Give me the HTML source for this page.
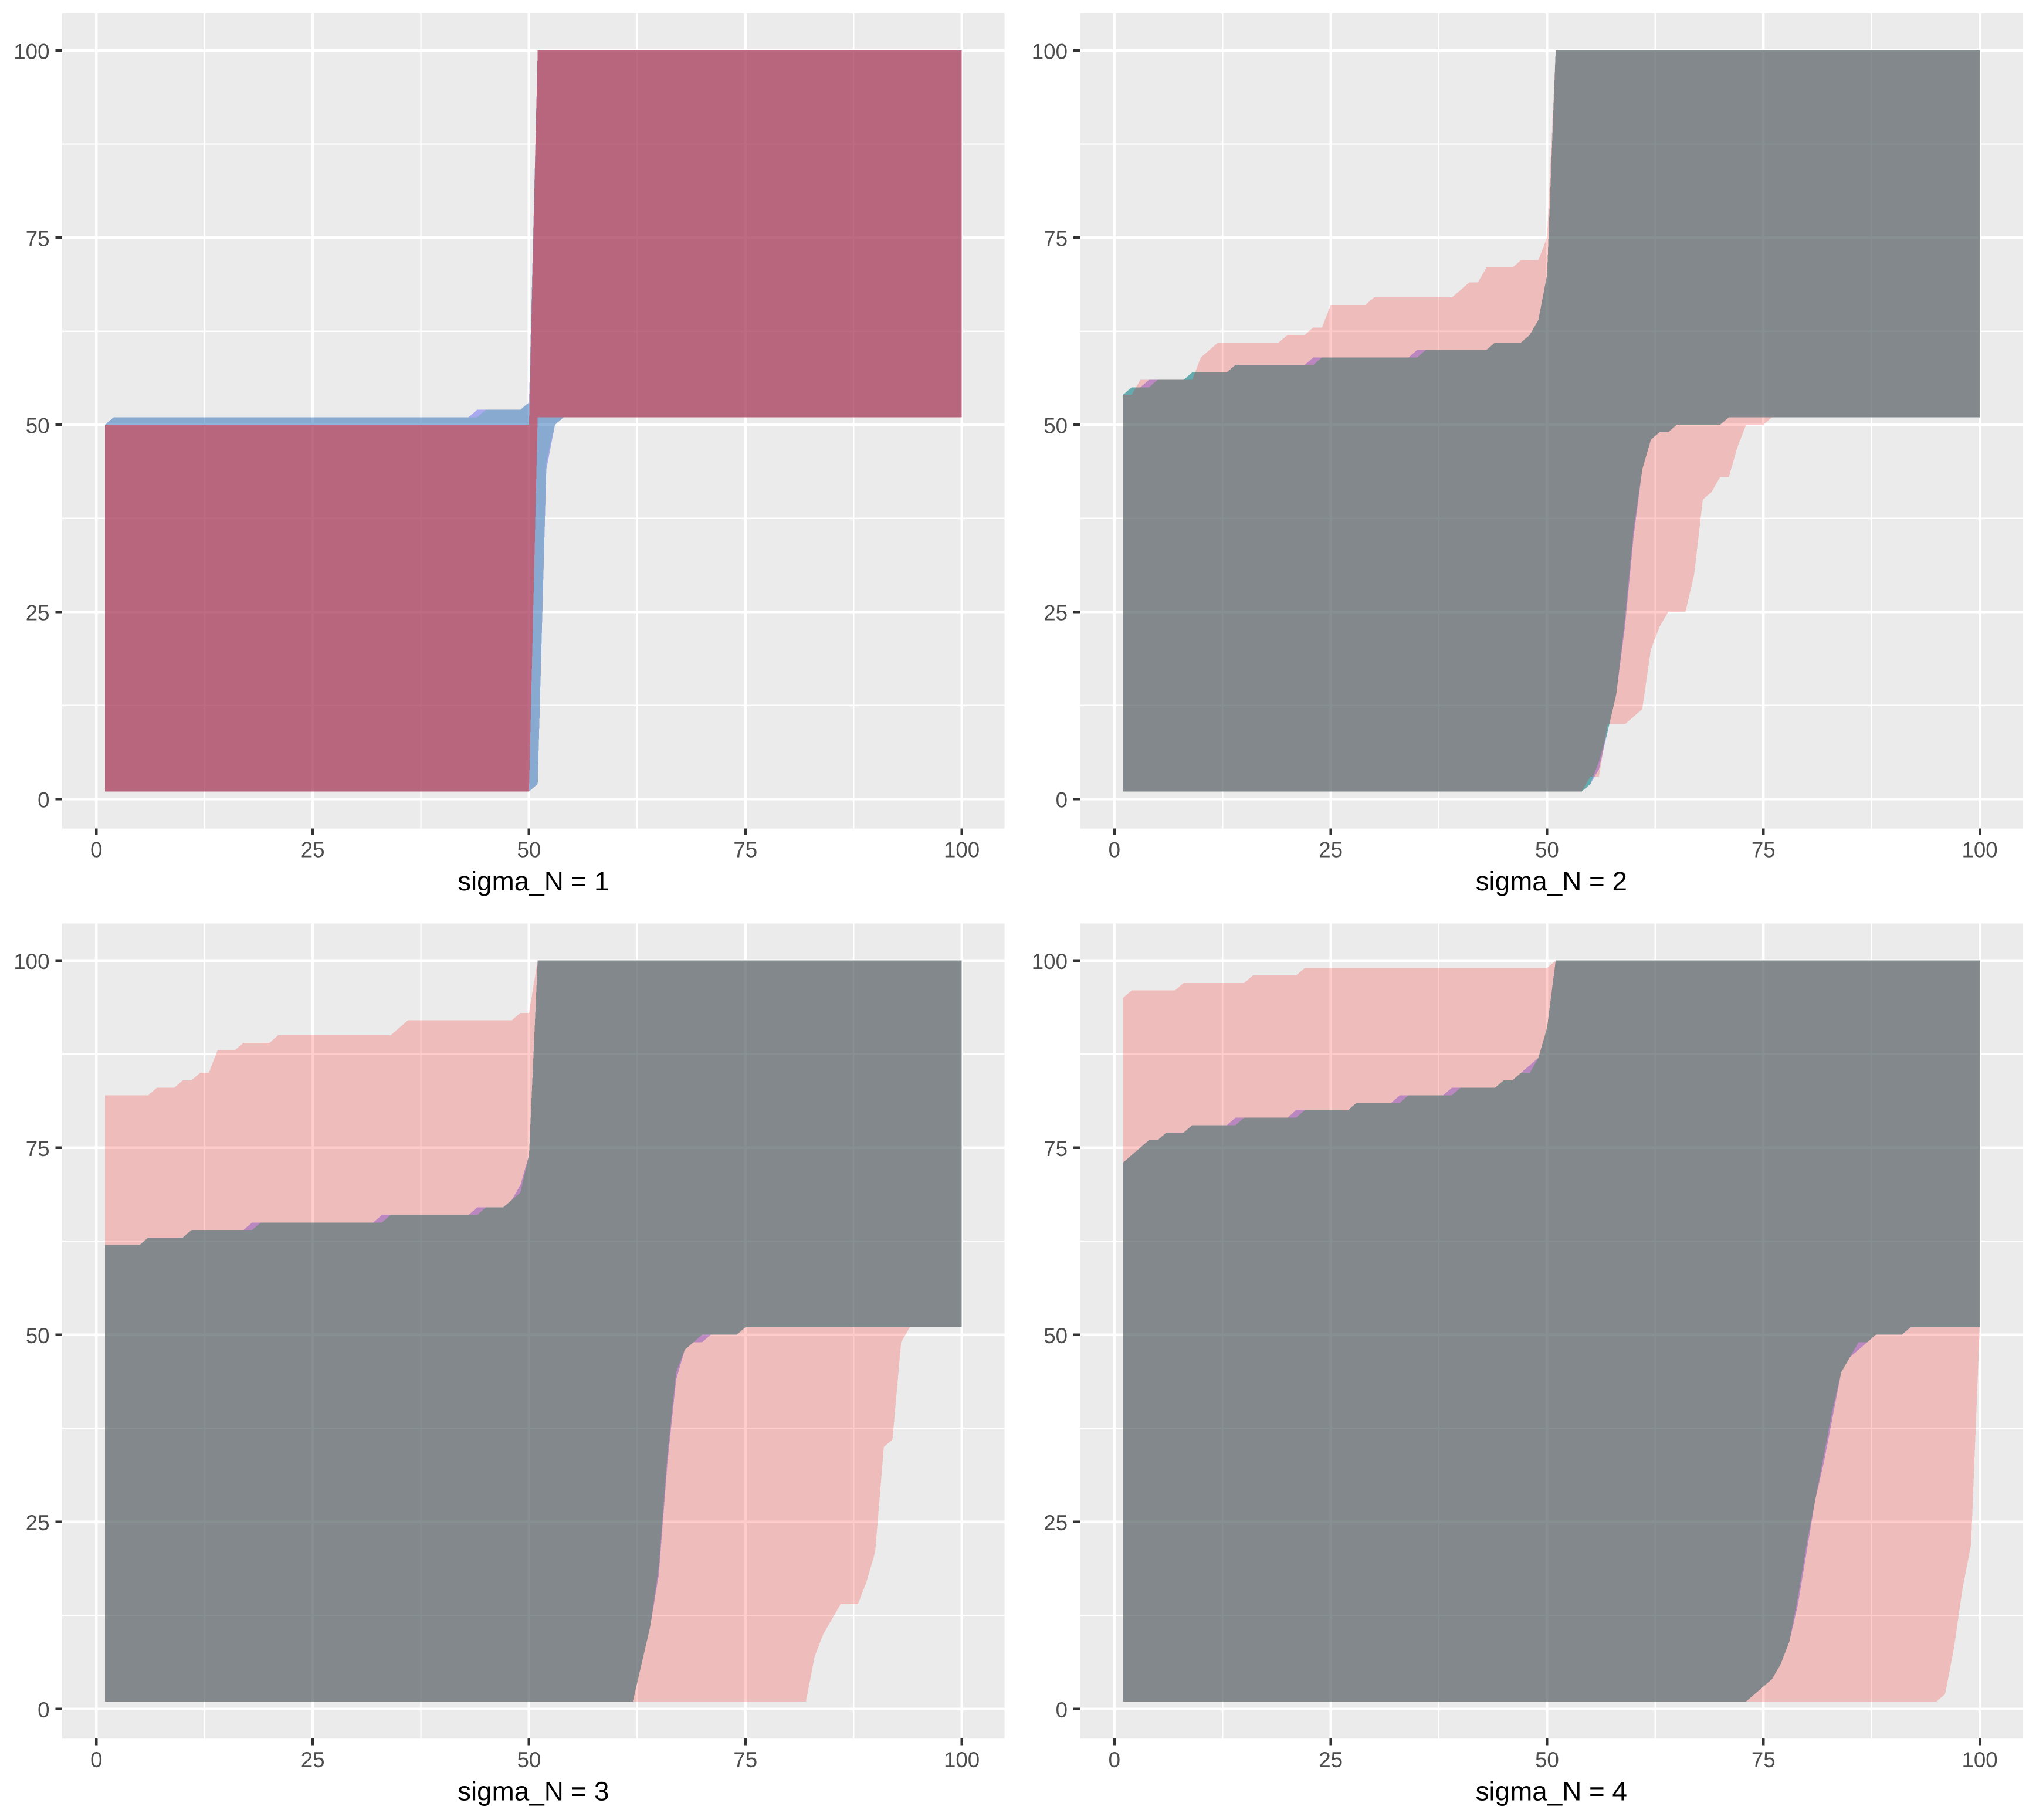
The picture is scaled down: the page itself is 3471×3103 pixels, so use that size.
<!DOCTYPE html>
<html lang="en">
<head>
<meta charset="utf-8">
<title>Ribbon comparison by sigma_N</title>
<style>
html,body{margin:0;padding:0;background:#fff;}
svg{display:block;font-family:"Liberation Sans",Arial,sans-serif;}
</style>
</head>
<body>
<svg id="chart" xmlns="http://www.w3.org/2000/svg" width="3471" height="3103" viewBox="0 0 3471 3103"></svg>
<script>
/* ---------- panel titles and axis ticks ---------- */
const panelTitles = ["sigma_N = 1", "sigma_N = 2", "sigma_N = 3", "sigma_N = 4"];
const majorTicks = [0, 25, 50, 75, 100];
const minorTicks = [12.5, 37.5, 62.5, 87.5];
const tickLabels = ["0", "25", "50", "75", "100"];
const xCategories = [
  1,2,3,4,5,6,7,8,9,10, 11,12,13,14,15,16,17,18,19,20,
  21,22,23,24,25,26,27,28,29,30, 31,32,33,34,35,36,37,38,39,40,
  41,42,43,44,45,46,47,48,49,50, 51,52,53,54,55,56,57,58,59,60,
  61,62,63,64,65,66,67,68,69,70, 71,72,73,74,75,76,77,78,79,80,
  81,82,83,84,85,86,87,88,89,90, 91,92,93,94,95,96,97,98,99,100
];

/* ---------- panel 1 (sigma_N = 1) ---------- */
const p1RedUpper = [
  50,50,50,50,50,50,50,50,50,50, 50,50,50,50,50,50,50,50,50,50,
  50,50,50,50,50,50,50,50,50,50, 50,50,50,50,50,50,50,50,50,50,
  50,50,50,50,50,50,50,50,50,50, 100,100,100,100,100,100,100,100,100,100,
  100,100,100,100,100,100,100,100,100,100, 100,100,100,100,100,100,100,100,100,100,
  100,100,100,100,100,100,100,100,100,100, 100,100,100,100,100,100,100,100,100,100
];
const p1RedLower = [
  1,1,1,1,1,1,1,1,1,1, 1,1,1,1,1,1,1,1,1,1,
  1,1,1,1,1,1,1,1,1,1, 1,1,1,1,1,1,1,1,1,1,
  1,1,1,1,1,1,1,1,1,1, 51,51,51,51,51,51,51,51,51,51,
  51,51,51,51,51,51,51,51,51,51, 51,51,51,51,51,51,51,51,51,51,
  51,51,51,51,51,51,51,51,51,51, 51,51,51,51,51,51,51,51,51,51
];
const p1TealUpper = [
  50,51,51,51,51,51,51,51,51,51, 51,51,51,51,51,51,51,51,51,51,
  51,51,51,51,51,51,51,51,51,51, 51,51,51,51,51,51,51,51,51,51,
  51,51,51,51,52,52,52,52,52,53, 100,100,100,100,100,100,100,100,100,100,
  100,100,100,100,100,100,100,100,100,100, 100,100,100,100,100,100,100,100,100,100,
  100,100,100,100,100,100,100,100,100,100, 100,100,100,100,100,100,100,100,100,100
];
const p1TealLower = [
  1,1,1,1,1,1,1,1,1,1, 1,1,1,1,1,1,1,1,1,1,
  1,1,1,1,1,1,1,1,1,1, 1,1,1,1,1,1,1,1,1,1,
  1,1,1,1,1,1,1,1,1,1, 2,45,50,51,51,51,51,51,51,51,
  51,51,51,51,51,51,51,51,51,51, 51,51,51,51,51,51,51,51,51,51,
  51,51,51,51,51,51,51,51,51,51, 51,51,51,51,51,51,51,51,51,51
];
const p1BlueUpper = [
  50,51,51,51,51,51,51,51,51,51, 51,51,51,51,51,51,51,51,51,51,
  51,51,51,51,51,51,51,51,51,51, 51,51,51,51,51,51,51,51,51,51,
  51,51,51,52,52,52,52,52,52,53, 100,100,100,100,100,100,100,100,100,100,
  100,100,100,100,100,100,100,100,100,100, 100,100,100,100,100,100,100,100,100,100,
  100,100,100,100,100,100,100,100,100,100, 100,100,100,100,100,100,100,100,100,100
];
const p1BlueLower = [
  1,1,1,1,1,1,1,1,1,1, 1,1,1,1,1,1,1,1,1,1,
  1,1,1,1,1,1,1,1,1,1, 1,1,1,1,1,1,1,1,1,1,
  1,1,1,1,1,1,1,1,1,1, 2,44,50,51,51,51,51,51,51,51,
  51,51,51,51,51,51,51,51,51,51, 51,51,51,51,51,51,51,51,51,51,
  51,51,51,51,51,51,51,51,51,51, 51,51,51,51,51,51,51,51,51,51
];

/* ---------- panel 2 (sigma_N = 2) ---------- */
const p2RedUpper = [
  54,54,56,56,56,56,56,56,56,59, 60,61,61,61,61,61,61,61,61,62,
  62,62,63,63,66,66,66,66,66,67, 67,67,67,67,67,67,67,67,67,68,
  69,69,71,71,71,71,72,72,72,75, 100,100,100,100,100,100,100,100,100,100,
  100,100,100,100,100,100,100,100,100,100, 100,100,100,100,100,100,100,100,100,100,
  100,100,100,100,100,100,100,100,100,100, 100,100,100,100,100,100,100,100,100,100
];
const p2RedLower = [
  1,1,1,1,1,1,1,1,1,1, 1,1,1,1,1,1,1,1,1,1,
  1,1,1,1,1,1,1,1,1,1, 1,1,1,1,1,1,1,1,1,1,
  1,1,1,1,1,1,1,1,1,1, 1,1,1,1,3,3,10,10,10,11,
  12,20,23,25,25,25,30,40,41,43, 43,47,50,50,50,51,51,51,51,51,
  51,51,51,51,51,51,51,51,51,51, 51,51,51,51,51,51,51,51,51,51
];
const p2TealUpper = [
  54,55,55,55,56,56,56,56,57,57, 57,57,57,58,58,58,58,58,58,58,
  58,58,58,59,59,59,59,59,59,59, 59,59,59,59,59,60,60,60,60,60,
  60,60,60,61,61,61,61,62,64,70, 100,100,100,100,100,100,100,100,100,100,
  100,100,100,100,100,100,100,100,100,100, 100,100,100,100,100,100,100,100,100,100,
  100,100,100,100,100,100,100,100,100,100, 100,100,100,100,100,100,100,100,100,100
];
const p2TealLower = [
  1,1,1,1,1,1,1,1,1,1, 1,1,1,1,1,1,1,1,1,1,
  1,1,1,1,1,1,1,1,1,1, 1,1,1,1,1,1,1,1,1,1,
  1,1,1,1,1,1,1,1,1,1, 1,1,1,1,2,5,9,14,24,36,
  44,48,49,49,50,50,50,50,50,50, 51,51,51,51,51,51,51,51,51,51,
  51,51,51,51,51,51,51,51,51,51, 51,51,51,51,51,51,51,51,51,51
];
const p2BlueUpper = [
  54,55,55,56,56,56,56,56,57,57, 57,57,57,58,58,58,58,58,58,58,
  58,58,59,59,59,59,59,59,59,59, 59,59,59,59,60,60,60,60,60,60,
  60,60,60,61,61,61,61,62,64,70, 100,100,100,100,100,100,100,100,100,100,
  100,100,100,100,100,100,100,100,100,100, 100,100,100,100,100,100,100,100,100,100,
  100,100,100,100,100,100,100,100,100,100, 100,100,100,100,100,100,100,100,100,100
];
const p2BlueLower = [
  1,1,1,1,1,1,1,1,1,1, 1,1,1,1,1,1,1,1,1,1,
  1,1,1,1,1,1,1,1,1,1, 1,1,1,1,1,1,1,1,1,1,
  1,1,1,1,1,1,1,1,1,1, 1,1,1,1,2,4,9,14,23,35,
  44,48,49,49,50,50,50,50,50,50, 51,51,51,51,51,51,51,51,51,51,
  51,51,51,51,51,51,51,51,51,51, 51,51,51,51,51,51,51,51,51,51
];

/* ---------- panel 3 (sigma_N = 3) ---------- */
const p3RedUpper = [
  82,82,82,82,82,82,83,83,83,84, 84,85,85,88,88,88,89,89,89,89,
  90,90,90,90,90,90,90,90,90,90, 90,90,90,90,91,92,92,92,92,92,
  92,92,92,92,92,92,92,92,93,93, 100,100,100,100,100,100,100,100,100,100,
  100,100,100,100,100,100,100,100,100,100, 100,100,100,100,100,100,100,100,100,100,
  100,100,100,100,100,100,100,100,100,100, 100,100,100,100,100,100,100,100,100,100
];
const p3RedLower = [
  1,1,1,1,1,1,1,1,1,1, 1,1,1,1,1,1,1,1,1,1,
  1,1,1,1,1,1,1,1,1,1, 1,1,1,1,1,1,1,1,1,1,
  1,1,1,1,1,1,1,1,1,1, 1,1,1,1,1,1,1,1,1,1,
  1,1,1,1,1,1,1,1,1,1, 1,1,1,1,1,1,1,1,1,1,
  1,1,7,10,12,14,14,14,17,21, 35,36,49,51,51,51,51,51,51,51
];
const p3TealUpper = [
  62,62,62,62,62,63,63,63,63,63, 64,64,64,64,64,64,64,64,65,65,
  65,65,65,65,65,65,65,65,65,65, 65,65,65,66,66,66,66,66,66,66,
  66,66,66,66,67,67,67,68,69,74, 100,100,100,100,100,100,100,100,100,100,
  100,100,100,100,100,100,100,100,100,100, 100,100,100,100,100,100,100,100,100,100,
  100,100,100,100,100,100,100,100,100,100, 100,100,100,100,100,100,100,100,100,100
];
const p3TealLower = [
  1,1,1,1,1,1,1,1,1,1, 1,1,1,1,1,1,1,1,1,1,
  1,1,1,1,1,1,1,1,1,1, 1,1,1,1,1,1,1,1,1,1,
  1,1,1,1,1,1,1,1,1,1, 1,1,1,1,1,1,1,1,1,1,
  1,1,6,11,19,34,45,48,49,50, 50,50,50,50,51,51,51,51,51,51,
  51,51,51,51,51,51,51,51,51,51, 51,51,51,51,51,51,51,51,51,51
];
const p3BlueUpper = [
  62,62,62,62,62,63,63,63,63,63, 64,64,64,64,64,64,64,65,65,65,
  65,65,65,65,65,65,65,65,65,65, 65,65,66,66,66,66,66,66,66,66,
  66,66,66,67,67,67,67,68,70,74, 100,100,100,100,100,100,100,100,100,100,
  100,100,100,100,100,100,100,100,100,100, 100,100,100,100,100,100,100,100,100,100,
  100,100,100,100,100,100,100,100,100,100, 100,100,100,100,100,100,100,100,100,100
];
const p3BlueLower = [
  1,1,1,1,1,1,1,1,1,1, 1,1,1,1,1,1,1,1,1,1,
  1,1,1,1,1,1,1,1,1,1, 1,1,1,1,1,1,1,1,1,1,
  1,1,1,1,1,1,1,1,1,1, 1,1,1,1,1,1,1,1,1,1,
  1,1,6,11,18,33,44,48,49,49, 50,50,50,50,51,51,51,51,51,51,
  51,51,51,51,51,51,51,51,51,51, 51,51,51,51,51,51,51,51,51,51
];

/* ---------- panel 4 (sigma_N = 4) ---------- */
const p4RedUpper = [
  95,96,96,96,96,96,96,97,97,97, 97,97,97,97,97,98,98,98,98,98,
  98,99,99,99,99,99,99,99,99,99, 99,99,99,99,99,99,99,99,99,99,
  99,99,99,99,99,99,99,99,99,99, 100,100,100,100,100,100,100,100,100,100,
  100,100,100,100,100,100,100,100,100,100, 100,100,100,100,100,100,100,100,100,100,
  100,100,100,100,100,100,100,100,100,100, 100,100,100,100,100,100,100,100,100,100
];
const p4RedLower = [
  1,1,1,1,1,1,1,1,1,1, 1,1,1,1,1,1,1,1,1,1,
  1,1,1,1,1,1,1,1,1,1, 1,1,1,1,1,1,1,1,1,1,
  1,1,1,1,1,1,1,1,1,1, 1,1,1,1,1,1,1,1,1,1,
  1,1,1,1,1,1,1,1,1,1, 1,1,1,1,1,1,1,1,1,1,
  1,1,1,1,1,1,1,1,1,1, 1,1,1,1,1,2,8,16,22,51
];
const p4TealUpper = [
  73,74,75,76,76,77,77,77,78,78, 78,78,78,78,79,79,79,79,79,79,
  79,80,80,80,80,80,80,81,81,81, 81,81,81,82,82,82,82,82,82,83,
  83,83,83,83,84,84,85,85,87,91, 100,100,100,100,100,100,100,100,100,100,
  100,100,100,100,100,100,100,100,100,100, 100,100,100,100,100,100,100,100,100,100,
  100,100,100,100,100,100,100,100,100,100, 100,100,100,100,100,100,100,100,100,100
];
const p4TealLower = [
  1,1,1,1,1,1,1,1,1,1, 1,1,1,1,1,1,1,1,1,1,
  1,1,1,1,1,1,1,1,1,1, 1,1,1,1,1,1,1,1,1,1,
  1,1,1,1,1,1,1,1,1,1, 1,1,1,1,1,1,1,1,1,1,
  1,1,1,1,1,1,1,1,1,1, 1,1,1,2,3,4,6,9,15,22,
  28,34,40,45,47,49,49,50,50,50, 50,51,51,51,51,51,51,51,51,51
];
const p4BlueUpper = [
  73,74,75,76,76,77,77,77,78,78, 78,78,78,79,79,79,79,79,79,79,
  80,80,80,80,80,80,80,81,81,81, 81,81,82,82,82,82,82,82,83,83,
  83,83,83,83,84,84,85,86,87,91, 100,100,100,100,100,100,100,100,100,100,
  100,100,100,100,100,100,100,100,100,100, 100,100,100,100,100,100,100,100,100,100,
  100,100,100,100,100,100,100,100,100,100, 100,100,100,100,100,100,100,100,100,100
];
const p4BlueLower = [
  1,1,1,1,1,1,1,1,1,1, 1,1,1,1,1,1,1,1,1,1,
  1,1,1,1,1,1,1,1,1,1, 1,1,1,1,1,1,1,1,1,1,
  1,1,1,1,1,1,1,1,1,1, 1,1,1,1,1,1,1,1,1,1,
  1,1,1,1,1,1,1,1,1,1, 1,1,1,2,3,4,6,9,14,21,
  28,33,39,45,47,48,49,50,50,50, 50,51,51,51,51,51,51,51,51,51
];

/* ---------- layout ---------- */
const SVG_NS = "http://www.w3.org/2000/svg";
const chart = document.getElementById("chart");
const CELL_W = 1735.5, CELL_H = 1551.5;
const PANEL_LEFT = 106, PANEL_W = 1606.6, PANEL_TOP = 22.9, PANEL_H = 1389.8;
const DOMAIN_MIN = -3.95, DOMAIN_SPAN = 108.9;

function shape(tag, attrs, parent) {
  const el = document.createElementNS(SVG_NS, tag);
  for (const k in attrs) el.setAttribute(k, attrs[k]);
  parent.appendChild(el);
  return el;
}
function xAxisScale(col) {
  const left = PANEL_LEFT + col * CELL_W;
  return v => left + (v - DOMAIN_MIN) / DOMAIN_SPAN * PANEL_W;
}
function yAxisScale(row) {
  const bottom = PANEL_TOP + row * CELL_H + PANEL_H;
  return v => bottom - (v - DOMAIN_MIN) / DOMAIN_SPAN * PANEL_H;
}
function ribbonPoints(upper, lower, sx, sy) {
  const top = xCategories.map((x, i) => sx(x).toFixed(2) + "," + sy(upper[i]).toFixed(2));
  const bottom = xCategories.map((x, i) => sx(x).toFixed(2) + "," + sy(lower[i]).toFixed(2)).reverse();
  return top.concat(bottom).join(" ");
}

function drawPanel(index, blue, teal, red, tealStyle, redOpacity) {
  const col = index % 2, row = Math.floor(index / 2);
  const sx = xAxisScale(col), sy = yAxisScale(row);
  const left = PANEL_LEFT + col * CELL_W, top = PANEL_TOP + row * CELL_H;
  const right = left + PANEL_W, bottom = top + PANEL_H;

  const g = shape("g", {}, chart);
  
  

  const bg = shape("rect", {x: left, y: top, width: PANEL_W, height: PANEL_H, fill: "#EBEBEB"}, g);
  
  

  const grid = shape("g", {stroke: "#FFFFFF", "shape-rendering": "crispEdges"}, g);
  
  
  minorTicks.forEach(v => {
    shape("line", {x1: left, x2: right, y1: sy(v), y2: sy(v), "stroke-width": 2.2}, grid);
    shape("line", {x1: sx(v), x2: sx(v), y1: top, y2: bottom, "stroke-width": 2.2}, grid);
  });
  majorTicks.forEach(v => {
    shape("line", {x1: left, x2: right, y1: sy(v), y2: sy(v), "stroke-width": 4.4}, grid);
    shape("line", {x1: sx(v), x2: sx(v), y1: top, y2: bottom, "stroke-width": 4.4}, grid);
  });

  const blueRibbon = shape("polygon", {points: ribbonPoints(blue.upper, blue.lower, sx, sy), fill: "#0000FF", "fill-opacity": 0.28, "shape-rendering": "crispEdges"}, g);
  
  

  const tealRibbon = shape("polygon", {points: ribbonPoints(teal.upper, teal.lower, sx, sy), fill: tealStyle.fill, "fill-opacity": tealStyle.opacity, "shape-rendering": "crispEdges"}, g);
  
  

  const redRibbon = shape("polygon", {points: ribbonPoints(red.upper, red.lower, sx, sy), fill: "#FF0000", "fill-opacity": redOpacity, "shape-rendering": "crispEdges"}, g);
  
  

  const axes = shape("g", {}, g);
  
  

  majorTicks.forEach((v, i) => {
    const yt = shape("line", {x1: left - 11.5, x2: left, y1: sy(v), y2: sy(v), stroke: "#333333", "stroke-width": 4.4, "shape-rendering": "crispEdges"}, axes);
    
    

    const yl = shape("text", {x: left - 21.5, y: sy(v) + 14.2, "text-anchor": "end", "font-size": 36.7, fill: "#4D4D4D"}, axes);
    yl.textContent = tickLabels[i];
    
    

    const xt = shape("line", {x1: sx(v), x2: sx(v), y1: bottom, y2: bottom + 11.5, stroke: "#333333", "stroke-width": 4.4, "shape-rendering": "crispEdges"}, axes);
    
    

    const xl = shape("text", {x: sx(v), y: bottom + 49, "text-anchor": "middle", "font-size": 36.7, fill: "#4D4D4D"}, axes);
    xl.textContent = tickLabels[i];
    
    
  });

  const title = shape("text", {x: left + PANEL_W / 2, y: bottom + 105.5, "text-anchor": "middle", "font-size": 45.8, fill: "#000000"}, axes);
  title.textContent = panelTitles[index];
  
  
}

const tealFirst = {fill: "rgb(88,173,161)", opacity: 0.4};
const tealRest = {fill: "rgb(29,173,107)", opacity: 0.5};

drawPanel(0, {upper: p1BlueUpper, lower: p1BlueLower}, {upper: p1TealUpper, lower: p1TealLower}, {upper: p1RedUpper, lower: p1RedLower}, tealFirst, 0.4);
drawPanel(1, {upper: p2BlueUpper, lower: p2BlueLower}, {upper: p2TealUpper, lower: p2TealLower}, {upper: p2RedUpper, lower: p2RedLower}, tealRest, 0.2);
drawPanel(2, {upper: p3BlueUpper, lower: p3BlueLower}, {upper: p3TealUpper, lower: p3TealLower}, {upper: p3RedUpper, lower: p3RedLower}, tealRest, 0.2);
drawPanel(3, {upper: p4BlueUpper, lower: p4BlueLower}, {upper: p4TealUpper, lower: p4TealLower}, {upper: p4RedUpper, lower: p4RedLower}, tealRest, 0.2);
</script>
</body>
</html>
